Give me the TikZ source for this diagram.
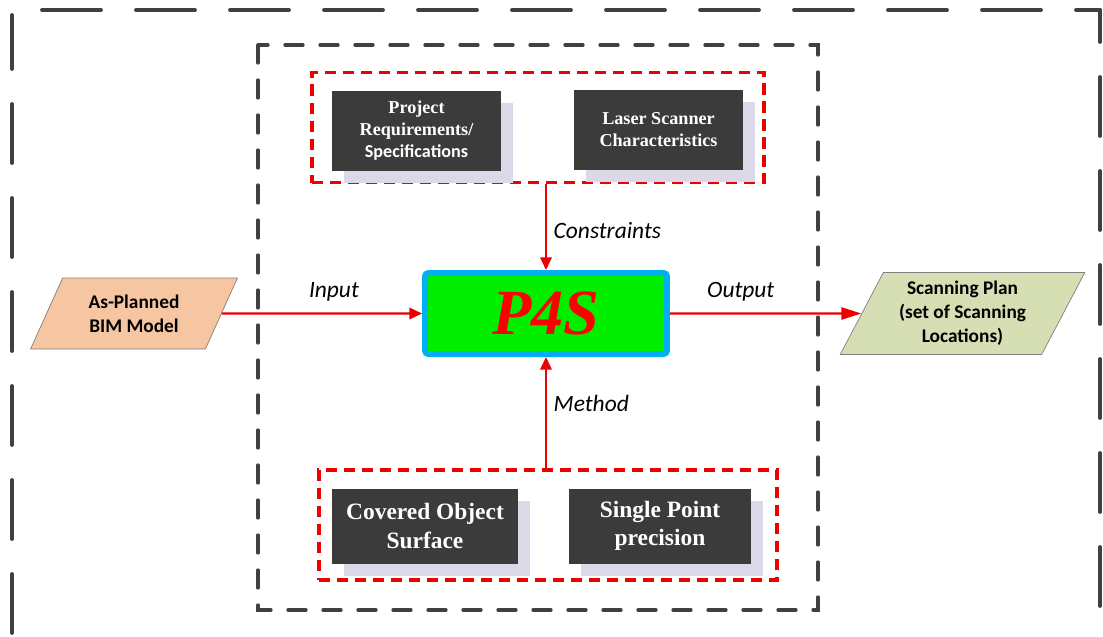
\documentclass[tikz,border=0pt]{standalone}
\usepackage{fontspec}
\setmainfont{Liberation Serif}
\newfontfamily\calibri{Carlito}
\usepackage{tikz}
\usetikzlibrary{arrows.meta,shapes.geometric,shadows}
\definecolor{boxGrey}{HTML}{3B3B3B}
\definecolor{boxShade}{HTML}{DCD8E8}
\definecolor{frameGrey}{HTML}{404040}
\definecolor{lineRed}{HTML}{EE0000}
\definecolor{coreGreen}{HTML}{00EE00}
\definecolor{coreBlue}{HTML}{00B0F0}
\definecolor{inPeach}{HTML}{F6C6A2}
\definecolor{outOlive}{HTML}{D6DEB4}
\tikzset{
  dbox/.style={rectangle, fill=boxGrey, text=white, align=center, inner sep=0pt,
    general shadow={fill=boxShade, shadow xshift=3.6mm, shadow yshift=-3.6mm}},
  topfont/.style={font=\bfseries\fontsize{15.5}{18.7}\selectfont},
  botfont/.style={font=\bfseries\fontsize{20}{24}\selectfont},
  redframe/.style={rectangle, draw=lineRed, line width=2.7pt, dash pattern=on 3.4mm off 2mm},
  data/.style={trapezium, trapezium stretches=true, draw=black!50, line width=0.6pt, align=center,
    font=\calibri\bfseries\fontsize{16.5}{20.4}\selectfont},
  flow/.style={-{Triangle[length=3.8mm, width=3.4mm]}, line width=2pt, draw=lineRed},
  tag/.style={font=\calibri\itshape\fontsize{20}{22}\selectfont},
  outer/.style={draw=frameGrey, line width=3.2pt, line cap=round, dash pattern=on 17.7mm off 10.5mm},
  inner/.style={draw=frameGrey, line width=2.8pt, line cap=round, dash pattern=on 5.4mm off 5.1mm}
}

\begin{document}
\begin{tikzpicture}[x=0.3mm, y=-0.3mm]
  \useasboundingbox (0,0) rectangle (1103,636);
  % outer frame, open at the bottom
  \draw[outer, dash phase=19.2mm] (12,10) -- (1100,10);
  \draw[outer, dash phase=1.5mm] (12,15) -- (12,700);
  \draw[outer, dash phase=8.1mm] (1100,10) -- (1100,700);

  % core
  \node[rectangle, fill=coreGreen, draw=coreBlue, line width=5pt, rounded corners=1mm,
        minimum width=72.6mm, minimum height=24.3mm,
        font=\bfseries\itshape\fontsize{55}{55}\selectfont, text=red] (p4s) at (546,313.5) {P4S};

  % constraints
  \node[redframe, minimum width=135.6mm, minimum height=33mm] (req) at (538,127.5) {};
  \node[dbox, topfont, minimum width=50.7mm, minimum height=24mm] (spec) at (416.5,130.5)
    {Project\\Requirements/\\{\calibri\bfseries Specifications}};
  \node[dbox, topfont, minimum width=50.7mm, minimum height=24mm] (laser) at (658.5,129.5)
    {Laser Scanner\\Characteristics};

  % method
  \node[redframe, minimum width=137.4mm, minimum height=33mm] (meth) at (548,525) {};
  \node[dbox, botfont, minimum width=55.8mm, minimum height=22.5mm] (cover) at (425,526)
    {Covered Object\\Surface};
  \node[dbox, botfont, minimum width=54.6mm, minimum height=22.5mm] (single) at (660,526)
    {Single Point\\precision};

  % input / output
  \node[data, fill=inPeach, trapezium left angle=64, trapezium right angle=116,
        minimum width=62.1mm, minimum height=21.3mm] (bim) at (134,313.5) {As-Planned\\BIM Model};
  \node[data, fill=outOlive, trapezium left angle=63, trapezium right angle=117,
        minimum width=73.5mm, minimum height=24.6mm] (plan) at (962.5,313.5)
    {Scanning Plan\\(set of Scanning\\Locations)};

  \draw[flow] (bim.east) -- node[tag, pos=0.56, above=2.2mm] {Input} (p4s.west);
  \draw[flow, -{Triangle[length=6mm, width=3.6mm]}] (p4s.east)
    -- node[tag, pos=0.37, above=2.2mm] {Output} (plan.west);
  \draw[flow] (p4s.north |- req.south) -- node[tag, pos=0.54, right=0.8mm] {Constraints} (p4s.north);
  \draw[flow] (p4s.south |- meth.north) -- node[tag, pos=0.58, right=0.8mm] {Method} (p4s.south);

  % inner frame lies over the connectors
  \draw[inner] (258,45) rectangle (818,610);
\end{tikzpicture}
\end{document}
